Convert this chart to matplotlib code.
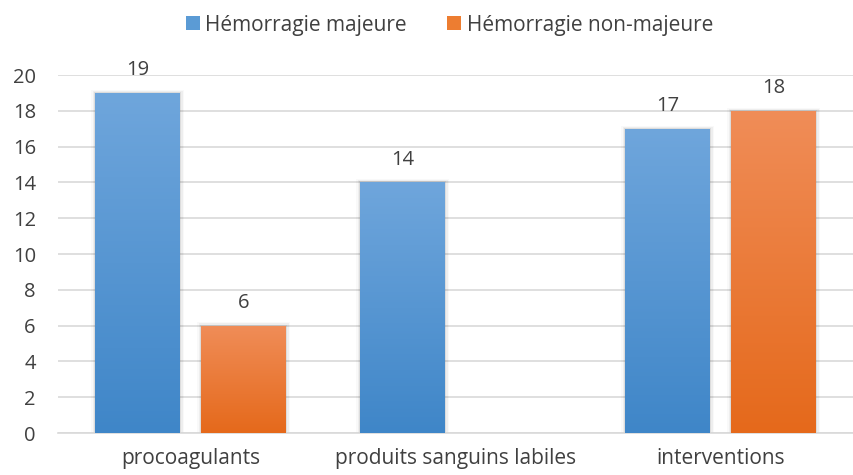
import numpy as np
import matplotlib.pyplot as plt
from matplotlib.patches import Rectangle
from matplotlib.colors import LinearSegmentedColormap

plt.rcParams['font.family'] = ['Open Sans', 'DejaVu Sans']

categories = ["procoagulants", "produits sanguins labiles", "interventions"]
majeure = [19, 14, 17]
non_majeure = [6, None, 18]
series_names = ["Hémorragie majeure", "Hémorragie non-majeure"]

fig = plt.figure(figsize=(8.54, 4.75), dpi=100)
ax = fig.add_axes([0.068, 0.0884, 0.931, 0.7536])

x = np.arange(len(categories))
width = 0.32
offset = 0.2

cmaps = [
    LinearSegmentedColormap.from_list("b", ["#3f86c8", "#6fa6dc"]),
    LinearSegmentedColormap.from_list("o", ["#e5691b", "#f08d58"]),
]
solid = ["#5b9bd5", "#ed7d31"]
grad = np.linspace(0, 1, 256).reshape(-1, 1)

for si, (vals, sign) in enumerate([(majeure, -1), (non_majeure, 1)]):
    for xi, v in zip(x, vals):
        if v is None:
            continue
        left = xi + sign * offset - width / 2
        # soft shadow
        for k, a in enumerate([0.07, 0.045, 0.025]):
            d = 0.005 * (k + 1)
            ax.add_patch(Rectangle((left - d, 0), width + 2 * d, v + 0.06 * (k + 1),
                                   facecolor="black", alpha=a, edgecolor="none", zorder=2))
        im = ax.imshow(grad, cmap=cmaps[si], aspect="auto", origin="lower",
                       extent=(left, left + width, 0, v), zorder=3)
        rect = Rectangle((left, 0), width, v, facecolor="none", edgecolor="none")
        ax.add_patch(rect)
        im.set_clip_path(rect)
        ax.text(xi + sign * offset, v + 0.7, str(v), ha="center", va="bottom",
                fontsize=14.5, color="#404040", zorder=4)

ax.set_xlim(-0.5, 2.5)
ax.set_ylim(0, 20)
ax.set_yticks(range(0, 21, 2))
ax.set_xticks(x)
ax.set_xticklabels(categories, fontsize=15)
ax.tick_params(axis="both", length=0, labelcolor="#404040")
ax.tick_params(axis="y", labelsize=14.5, pad=16)
ax.tick_params(axis="x", pad=11)
ax.grid(axis="y", color="#d9d9d9", linewidth=1.2, zorder=0)
ax.set_axisbelow(True)
for s in ["top", "right", "left"]:
    ax.spines[s].set_visible(False)
ax.spines["bottom"].set_color("#d9d9d9")
ax.spines["bottom"].set_linewidth(1.2)

handles = [Rectangle((0, 0), 1, 1, facecolor=c) for c in solid]
ax.legend(handles, series_names, loc="center", bbox_to_anchor=(0.5263, 0.947),
          bbox_transform=fig.transFigure, ncol=2, frameon=False,
          handlelength=0.67, handleheight=0.67, handletextpad=0.25,
          columnspacing=1.95, labelcolor="#404040", fontsize=15,
          borderpad=0, borderaxespad=0)

fig.savefig("out.png", dpi=100)
